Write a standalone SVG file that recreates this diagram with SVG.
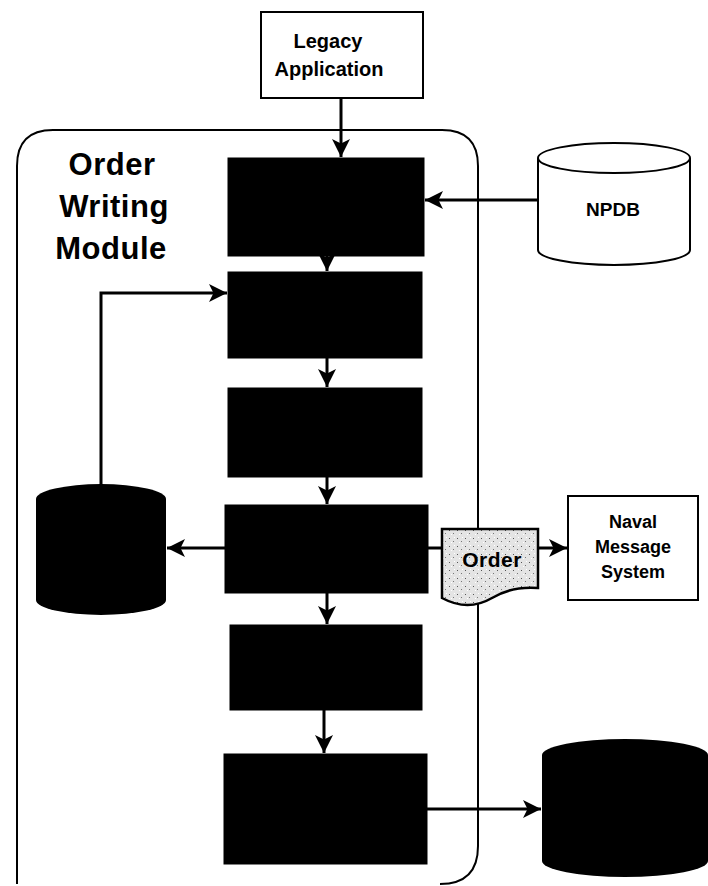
<svg xmlns="http://www.w3.org/2000/svg" width="708" height="886" viewBox="0 0 708 886">
  <style>
    .lbl { font-family: "Liberation Sans", Arial, sans-serif; font-weight: bold; fill: #000; text-anchor: middle; }
    .box { fill: #fff; stroke: #000; stroke-width: 2; }
    .step { fill: #000; stroke: #000; stroke-width: 1; }
    .wire { fill: none; stroke: #000; stroke-width: 3; }
  </style>
  <defs>
    <marker id="arr" viewBox="0 0 10 10" refX="10" refY="5" markerWidth="6.5" markerHeight="6" orient="auto" markerUnits="strokeWidth">
      <path d="M0,0 L10,5 L0,10 L2.5,5 Z" fill="#000"/>
    </marker>
    <pattern id="speck" width="8" height="8" patternUnits="userSpaceOnUse">
      <rect width="8" height="8" fill="#e4e4e4"/>
      <rect x="1" y="2" width="1" height="1" fill="#555"/>
      <rect x="5" y="5" width="1" height="1" fill="#777"/>
      <rect x="6" y="1" width="1" height="1" fill="#fff"/>
      <rect x="3" y="6" width="1" height="1" fill="#fff"/>
    </pattern>
  </defs>

  <!-- module boundary -->
  <g id="module">
    <path d="M17,884 L17,166 Q17,130 53,130 L442,130 Q478,130 478,166 L478,846 Q478,884 440,884" fill="none" stroke="#000" stroke-width="2"/>
    <text class="lbl" x="112" y="175" font-size="31" letter-spacing="0.5">Order</text>
    <text class="lbl" x="114" y="217" font-size="31" letter-spacing="0.5">Writing</text>
    <text class="lbl" x="111" y="259" font-size="31" letter-spacing="0.5">Module</text>
  </g>

  <g id="legacy">
    <rect class="box" x="261" y="12" width="162" height="86"/>
    <text class="lbl" x="328" y="48" font-size="20">Legacy</text>
    <text class="lbl" x="329" y="76" font-size="20">Application</text>
  </g>

  <g id="npdb">
    <path d="M538,158 L538,250 A76,15 0 0 0 690,250 L690,158" class="box"/>
    <ellipse cx="614" cy="158" rx="76" ry="15" class="box"/>
    <text class="lbl" x="613" y="216" font-size="19">NPDB</text>
  </g>

  <g id="step1"><rect class="step" x="228" y="158" width="196" height="98"/></g>
  <g id="step2"><rect class="step" x="228" y="272" width="194" height="86"/></g>
  <g id="step3"><rect class="step" x="228" y="388" width="194" height="89"/></g>
  <g id="step4"><rect class="step" x="225" y="505" width="203" height="88"/></g>
  <g id="step5"><rect class="step" x="230" y="625" width="192" height="85"/></g>
  <g id="step6"><rect class="step" x="224" y="754" width="203" height="110"/></g>

  <g id="store-left">
    <path d="M36,499 A65,15 0 0 1 166,499 L166,600 A65,15 0 0 1 36,600 Z" fill="#000"/>
  </g>

  <g id="store-right">
    <path d="M542,755 A83,16 0 0 1 708,755 L708,861 A83,16 0 0 1 542,861 Z" fill="#000"/>
  </g>

  <g id="order-doc">
    <path d="M442,529 L538,529 L538,588 Q512,586 492,598 Q468,612 442,598 Z" fill="url(#speck)" stroke="#000" stroke-width="2.5"/>
    <text class="lbl" x="492" y="567" font-size="21" letter-spacing="0.5">Order</text>
  </g>

  <g id="naval">
    <rect class="box" x="568" y="496" width="130" height="104"/>
    <text class="lbl" x="633" y="528" font-size="18">Naval</text>
    <text class="lbl" x="633" y="553" font-size="18">Message</text>
    <text class="lbl" x="633" y="578" font-size="18">System</text>
  </g>

  <g id="connectors">
    <line class="wire" x1="341" y1="98" x2="341" y2="157" marker-end="url(#arr)"/>
    <line class="wire" x1="538" y1="200" x2="425" y2="200" marker-end="url(#arr)"/>
    <line class="wire" x1="327" y1="256" x2="327" y2="271" marker-end="url(#arr)"/>
    <polyline class="wire" points="101,484 101,293 227,293" marker-end="url(#arr)"/>
    <line class="wire" x1="327" y1="358" x2="327" y2="387" marker-end="url(#arr)"/>
    <line class="wire" x1="327" y1="477" x2="327" y2="504" marker-end="url(#arr)"/>
    <line class="wire" x1="225" y1="548" x2="167" y2="548" marker-end="url(#arr)"/>
    <line class="wire" x1="428" y1="548" x2="442" y2="548"/>
    <line class="wire" x1="538" y1="548" x2="567" y2="548" marker-end="url(#arr)"/>
    <line class="wire" x1="327" y1="593" x2="327" y2="624" marker-end="url(#arr)"/>
    <line class="wire" x1="324" y1="710" x2="324" y2="753" marker-end="url(#arr)"/>
    <line class="wire" x1="427" y1="809" x2="541" y2="809" marker-end="url(#arr)"/>
  </g>
</svg>
